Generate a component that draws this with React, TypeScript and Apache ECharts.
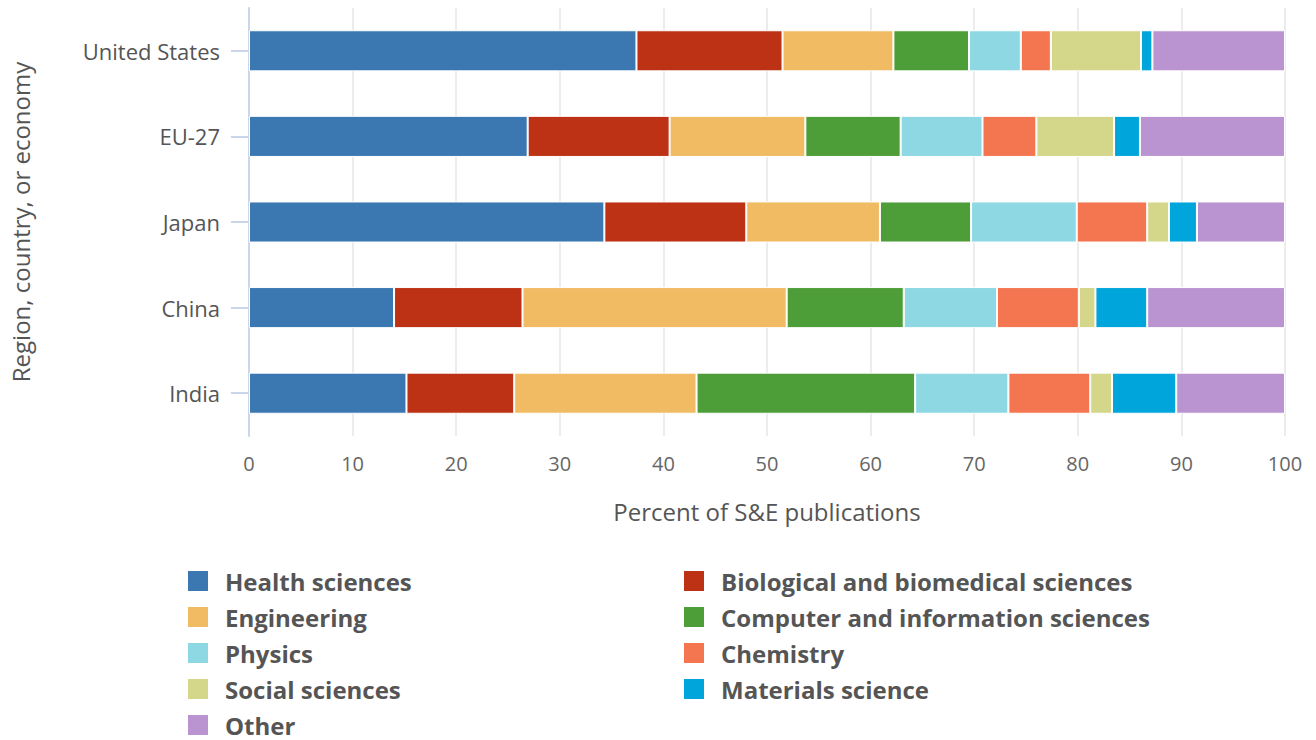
import React, { useEffect, useRef } from "react";
import * as echarts from "echarts";

const categories = ["United States", "EU-27", "Japan", "China", "India"];
const xTicks = [0, 10, 20, 30, 40, 50, 60, 70, 80, 90, 100];

const healthSciences = [37.4, 26.9, 34.3, 14.0, 15.2];
const biologicalSciences = [14.1, 13.7, 13.7, 12.4, 10.4];
const engineering = [10.7, 13.1, 12.9, 25.5, 17.6];
const computerSciences = [7.3, 9.2, 8.8, 11.3, 21.1];
const physics = [5.0, 7.9, 10.2, 9.0, 9.0];
const chemistry = [2.9, 5.2, 6.8, 7.9, 7.9];
const socialSciences = [8.7, 7.5, 2.1, 1.6, 2.1];
const materialsScience = [1.1, 2.5, 2.7, 5.0, 6.2];
const other = [12.8, 14.0, 8.5, 13.3, 10.5];

const seriesNames = [
  "Health sciences",
  "Biological and biomedical sciences",
  "Engineering",
  "Computer and information sciences",
  "Physics",
  "Chemistry",
  "Social sciences",
  "Materials science",
  "Other",
];
const seriesData = [
  healthSciences,
  biologicalSciences,
  engineering,
  computerSciences,
  physics,
  chemistry,
  socialSciences,
  materialsScience,
  other,
];
const colors = [
  "#3b77b0",
  "#bd3115",
  "#f0bb63",
  "#4d9e39",
  "#8dd8e3",
  "#f47650",
  "#d4d689",
  "#00a5dc",
  "#b994d0",
];

const FONT = "'Open Sans', sans-serif";

export default function App() {
  const ref = useRef<HTMLDivElement>(null);
  useEffect(() => {
    document.body.style.margin = "0";
    const chart = echarts.init(ref.current!, null, { renderer: "svg" });
    const legendText = {
      fontFamily: FONT,
      fontSize: 24,
      fontWeight: "bold",
      color: "#555555",
      padding: [0, 0, 0, 11],
    };
    const legendBase = {
      orient: "vertical",
      top: 569,
      height: 200,
      padding: 0,
      itemWidth: 22,
      itemHeight: 22,
      itemGap: 12,
      icon: "rect",
      selectedMode: false,
      textStyle: legendText,
    };
    chart.setOption({
      animation: false,
      color: colors,
      textStyle: { fontFamily: FONT },
      grid: { left: 248, right: 31, top: 8, bottom: 304 },
      legend: [
        {
          ...legendBase,
          left: 186,
          data: [seriesNames[0], seriesNames[2], seriesNames[4], seriesNames[6], seriesNames[8]],
        },
        {
          ...legendBase,
          left: 682,
          data: [seriesNames[1], seriesNames[3], seriesNames[5], seriesNames[7]],
        },
      ],
      xAxis: {
        type: "value",
        min: xTicks[0],
        max: xTicks[xTicks.length - 1],
        interval: 10,
        name: "Percent of S&E publications",
        nameLocation: "middle",
        nameGap: 63,
        nameTextStyle: { fontFamily: FONT, fontSize: 24, color: "#555555" },
        axisLine: { show: false },
        axisTick: { show: false },
        axisLabel: { fontFamily: FONT, fontSize: 20, color: "#666666", margin: 17 },
        splitLine: { show: true, lineStyle: { color: "#e6e6e6", width: 1.5 } },
      },
      yAxis: {
        type: "category",
        data: categories,
        inverse: true,
        name: "Region, country, or economy",
        nameLocation: "middle",
        nameGap: 217,
        nameTextStyle: { fontFamily: FONT, fontSize: 24, color: "#555555" },
        axisLine: { show: true, lineStyle: { color: "#ccd6eb", width: 2 } },
        axisTick: { show: true, alignWithLabel: true, length: 18, lineStyle: { color: "#ccd6eb", width: 2 } },
        axisLabel: { fontFamily: FONT, fontSize: 22, color: "#555555", margin: 29 },
      },
      series: seriesNames.map((name, i) => ({
        name,
        type: "bar",
        stack: "total",
        barWidth: "48%",
        data: seriesData[i],
        itemStyle: { borderColor: "#ffffff", borderWidth: 1 },
      })),
    });
    return () => chart.dispose();
  }, []);
  return <div ref={ref} style={{ width: 1316, height: 740 }} />;
}
